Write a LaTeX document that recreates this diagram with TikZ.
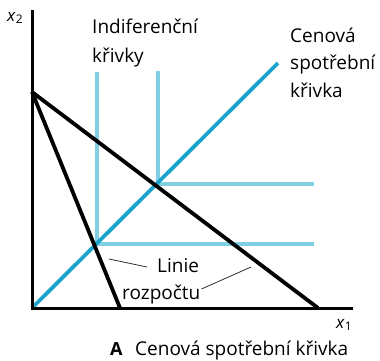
\documentclass[tikz,border=0pt]{standalone}
\usepackage{fontspec}
\setmainfont{Open Sans}
\usetikzlibrary{calc}
\definecolor{pcc}{HTML}{1AA3CC}
\definecolor{icc}{HTML}{80CFE3}
\definecolor{leader}{HTML}{333333}
\begin{document}
\begin{tikzpicture}[x=1pt,y=-1pt,
  axisline/.style={line width=3pt,black,line join=miter},
  budget/.style={line width=3.8pt,black},
  pccline/.style={line width=3.8pt,pcc},
  icline/.style={line width=3.4pt,icc,line join=miter},
  leaderline/.style={line width=0.8pt,leader},
  lbl/.style={font=\fontsize{19}{22}\selectfont,inner sep=0pt,anchor=base west},
  axlbl/.style={font=\fontsize{17}{20}\selectfont,inner sep=0pt,anchor=base west}]
\useasboundingbox (0,0) rectangle (380,360);
% coordinates
\coordinate (ytop) at (32,10);
\coordinate (O) at (32,308);
\coordinate (xend) at (353,308);
\coordinate (A) at (32,92);
\coordinate (B1) at (120,308);
\coordinate (B2) at (318,308);
\coordinate (P) at (278,63);
\coordinate (ic1top) at (97,72);
\coordinate (ic1c) at (97,244);
\coordinate (ic1end) at (314,244);
\coordinate (ic2top) at (158,71);
\coordinate (ic2c) at (158,184);
\coordinate (ic2end) at (314,184);
% indifference curves
\draw[icline] (ic1top) -- (ic1c) -- (ic1end);
\draw[icline] (ic2top) -- (ic2c) -- (ic2end);
% price consumption curve
\draw[pccline] (O) -- (P);
% budget lines
\draw[budget] (A) -- (B1);
\draw[budget] (A) -- (B2);
% axes
\draw[axisline] (ytop) -- (O) -- (xend);
% labels
\node[axlbl] (x2) at (7,21) {\textit{x}\textsubscript{2}};
\node[axlbl] (x1) at (336,328) {\textit{x}\textsubscript{1}};
\node[lbl] (ind1) at (92,33) {Indiferenční};
\node[lbl] (ind2) at (92,62) {křivky};
\node[lbl] (cen1) at (290,42) {Cenová};
\node[lbl] (cen2) at (290,69) {spotřební};
\node[lbl] (cen3) at (290,97) {křivka};
\node[lbl] (lin1) at (157,272) {Linie};
\node[lbl] (lin2) at (122,299) {rozpočtu};
\coordinate (l1a) at (109,259);
\coordinate (l2b) at (251,267);
\draw[leaderline] (l1a) -- ($(lin1.west |- 0,267)+(-10,0)$);
\draw[leaderline] ($(lin2.east |- 0,289)+(1,0)$) -- (l2b);
\node[lbl,font=\fontsize{18}{20}\selectfont\bfseries] (capA) at (110,355) {A};
\node[lbl] (cap) at (135,355) {Cenová spotřební křivka};
\end{tikzpicture}
\end{document}
